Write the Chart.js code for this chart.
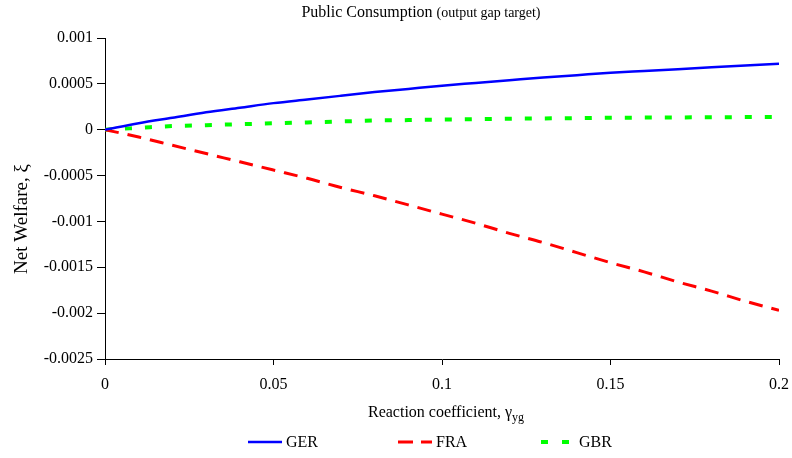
<!DOCTYPE html>
<html><head><meta charset="utf-8">
<script src="https://cdn.jsdelivr.net/npm/chart.js@4/dist/chart.umd.min.js"></script>
<style>html,body{margin:0;padding:0;background:#fff}#wrap{position:relative;width:792px;height:458px}</style>
</head><body><div id="wrap"><canvas id="c" width="792" height="458"></canvas></div>
<script>
const xValues = [0,0.01,0.02,0.03,0.04,0.05,0.06,0.07,0.08,0.09,0.1,0.11,0.12,0.13,0.14,0.15,0.16,0.17,0.18,0.19,0.2];
const gerValues = [0,0.00007,0.00013,0.00019,0.00024,0.00029,0.00033,0.00037,0.00041,0.000445,0.00048,0.00051,0.00054,0.00057,0.000595,0.00062,0.00064,0.00066,0.00068,0.0007,0.00072];
const fraValues = [0,-0.00008,-0.00017,-0.00026,-0.00035,-0.00044,-0.00053,-0.00063,-0.00072,-0.00082,-0.00092,-0.00102,-0.00113,-0.00123,-0.00134,-0.00145,-0.00155,-0.00166,-0.00176,-0.00187,-0.00197];
const gbrValues = [0,0.00002,0.00004,0.00005,0.00006,0.00007,0.00008,0.00009,0.0001,0.000105,0.00011,0.000115,0.00012,0.000123,0.000126,0.00013,0.000132,0.000134,0.000136,0.000138,0.00014];
const seriesNames = ['GER','FRA','GBR'];
const xTickValues = [0,0.05,0.1,0.15,0.2];
const xTickLabels = ['0','0.05','0.1','0.15','0.2'];
const yTickValues = [-0.0025,-0.002,-0.0015,-0.001,-0.0005,0,0.0005,0.001];
const yTickLabels = ['-0.0025','-0.002','-0.0015','-0.001','-0.0005','0','0.0005','0.001'];
const titleMain = 'Public Consumption';
const titleSub = '(output gap target)';
const xTitle = 'Reaction coefficient, ';
const xTitleSymbol = 'γ';
const xTitleSub = 'yg';
const yTitle = 'Net Welfare, ξ';

const FONT = "'Liberation Serif', 'Times New Roman', serif";
const toPts = arr => arr.map((v,i)=>({x:xValues[i], y:v}));

const annot = {
  id:'annot',
  afterDraw(chart){
    const ctx = chart.ctx, ca = chart.chartArea;
    ctx.save();
    ctx.fillStyle = '#000';
    ctx.textBaseline = 'alphabetic';
    ctx.textAlign = 'left';
    // title
    ctx.font = '16px ' + FONT;
    const w1 = ctx.measureText(titleMain + ' ').width;
    ctx.font = '14px ' + FONT;
    const w2 = ctx.measureText(titleSub).width;
    const tx = 421 - (w1 + w2)/2;
    ctx.font = '16px ' + FONT;
    ctx.fillText(titleMain + ' ', tx, 17);
    ctx.font = '14px ' + FONT;
    ctx.fillText(titleSub, tx + w1, 17);
    // x axis title
    ctx.font = '16px ' + FONT;
    const a = ctx.measureText(xTitle + xTitleSymbol).width;
    ctx.font = '12px ' + FONT;
    const b = ctx.measureText(xTitleSub).width;
    const xx = 446 - (a + b)/2;
    ctx.font = '16px ' + FONT;
    ctx.fillText(xTitle + xTitleSymbol, xx, 417);
    ctx.font = '12px ' + FONT;
    ctx.fillText(xTitleSub, xx + a, 421);
    // y axis title
    ctx.save();
    ctx.translate(22, 219);
    ctx.rotate(-Math.PI/2);
    ctx.font = '19px ' + FONT;
    ctx.textAlign = 'center';
    ctx.textBaseline = 'middle';
    ctx.fillText(yTitle, 0, 0);
    ctx.restore();
    // legend
    const starts = [248, 398, 541];
    const ly = 442;
    chart.data.datasets.forEach((ds, i) => {
      const sx = starts[i];
      ctx.save();
      ctx.strokeStyle = ds.borderColor;
      ctx.lineWidth = ds.borderWidth;
      ctx.setLineDash(ds.legendDash || []);
      ctx.beginPath();
      ctx.moveTo(sx, ly);
      ctx.lineTo(sx + 34, ly);
      ctx.stroke();
      ctx.restore();
      ctx.font = '16px ' + FONT;
      ctx.textBaseline = 'middle';
      ctx.fillText(ds.label, sx + 38, ly + 1);
    });
    ctx.restore();
  }
};

new Chart(document.getElementById('c'), {
  type: 'line',
  data: {
    datasets: [
      {label: seriesNames[0], data: toPts(gerValues), borderColor:'#0000FF', borderWidth:2.5, pointRadius:0, fill:false, cubicInterpolationMode:'monotone'},
      {label: seriesNames[1], data: toPts(fraValues), borderColor:'#FF0000', borderWidth:3, borderDash:[14,9], legendDash:[15,8], pointRadius:0, fill:false, cubicInterpolationMode:'monotone'},
      {label: seriesNames[2], data: toPts(gbrValues), borderColor:'#00FF00', borderWidth:4, borderDash:[7,13], legendDash:[7,14], pointRadius:0, fill:false, cubicInterpolationMode:'monotone'}
    ]
  },
  options: {
    responsive:false, animation:false, devicePixelRatio:1,
    layout:{padding:{top:38, right:13, bottom:0, left:0}},
    plugins:{legend:{display:false}, title:{display:false}, tooltip:{enabled:false}},
    scales:{
      x:{
        type:'linear', min:0, max:0.2,
        afterBuildTicks: s => { s.ticks = xTickValues.map(v=>({value:v})); },
        afterFit: s => { s.height = 99; s.paddingRight = 0; s.paddingLeft = 0; },
        ticks:{color:'#000', font:{family:FONT, size:16}, padding:10, maxRotation:0, autoSkip:false,
          callback:(v,i)=>xTickLabels[i]},
        grid:{drawOnChartArea:false, drawTicks:true, tickLength:6, color:'#000'},
        border:{display:true, color:'#000', width:1}
      },
      y:{
        type:'linear', min:-0.0025, max:0.001,
        afterBuildTicks: s => { s.ticks = yTickValues.map(v=>({value:v})); },
        afterFit: s => { s.width = 105; s.paddingTop = 0; s.paddingBottom = 0; },
        ticks:{color:'#000', font:{family:FONT, size:16}, padding:4, autoSkip:false,
          callback:(v,i)=>yTickLabels[i]},
        grid:{drawOnChartArea:false, drawTicks:true, tickLength:8, color:'#000'},
        border:{display:true, color:'#000', width:1}
      }
    }
  },
  plugins:[annot]
});
</script>
</body></html>
